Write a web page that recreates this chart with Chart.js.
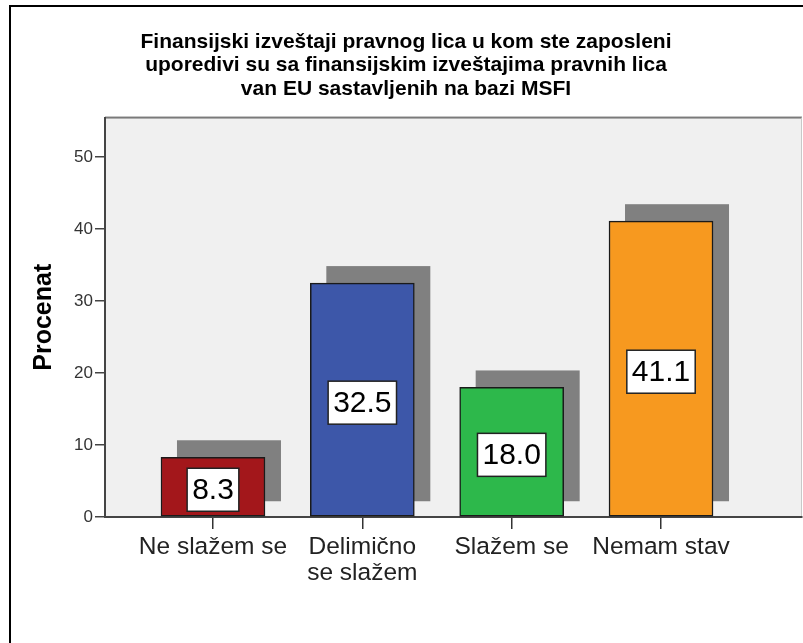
<!DOCTYPE html>
<html>
<head>
<meta charset="utf-8">
<script src="https://cdn.jsdelivr.net/npm/chart.js@4"></script>
<style>
  body { margin: 0; background: #fff; }
</style>
</head>
<body>
<canvas id="chart" width="803" height="643"></canvas>
<script>
const categories = ["Ne slažem se", ["Delimično", "se slažem"], "Slažem se", "Nemam stav"]
const values = [8.3, 32.5, 18.0, 41.1]
const barColors = ["#a3171b", "#3d57a9", "#2db84b", "#f7991f"]
const yTicks = [0, 10, 20, 30, 40, 50]
const titleLines = [
  "Finansijski izveštaji pravnog lica u kom ste zaposleni",
  "uporedivi su sa finansijskim izveštajima pravnih lica",
  "van EU sastavljenih na bazi MSFI"
]

const FONT = "'Liberation Sans', Arial, sans-serif"

// white page + black frame (left and top only, rest is cropped in the original)
const framePlugin = {
  id: "frame",
  beforeDraw(chart) {
    const c = chart.ctx
    c.save()
    c.fillStyle = "#fff"
    c.fillRect(0, 0, chart.width, chart.height)
    c.fillStyle = "#000"
    c.fillRect(9, 5, 2, chart.height - 5)
    c.fillRect(9, 5, chart.width - 9, 2)
    // plot background
    const a = chart.chartArea
    c.fillStyle = "#f0f0f0"
    c.fillRect(a.left, a.top, a.right - a.left, a.bottom - a.top)
    c.fillStyle = "#7a7a7a"
    c.fillRect(a.left, a.top - 1, a.right - a.left, 2)
    c.fillStyle = "#c8c8c8"
    c.fillRect(a.right - 1, a.top, 1, a.bottom - a.top)
    c.restore()
  }
}

// grey drop shadow behind each bar
const shadowPlugin = {
  id: "shadow",
  beforeDatasetsDraw(chart) {
    const c = chart.ctx
    c.save()
    c.fillStyle = "#808080"
    chart.getDatasetMeta(0).data.forEach(bar => {
      const w = bar.width
      const top = bar.y - 17
      const bottom = bar.base - 15
      c.fillRect(bar.x - w / 2 + 16, top, w, bottom - top)
    })
    c.restore()
  }
}

// white value boxes in the middle of the bars
const labelPlugin = {
  id: "valueBoxes",
  afterDatasetsDraw(chart) {
    const c = chart.ctx
    c.save()
    c.font = "30px " + FONT
    c.textAlign = "center"
    c.textBaseline = "middle"
    chart.getDatasetMeta(0).data.forEach((bar, i) => {
      const txt = values[i].toFixed(1)
      const tw = c.measureText(txt).width
      const bw = tw + 10, bh = 43
      let cy = (bar.y + bar.base) / 2 + 3
      if (cy + bh / 2 > bar.base - 5) cy = bar.base - 5 - bh / 2
      c.fillStyle = "#fff"
      c.fillRect(bar.x - bw / 2, cy - bh / 2, bw, bh)
      c.strokeStyle = "#222"
      c.lineWidth = 1.5
      c.strokeRect(bar.x - bw / 2, cy - bh / 2, bw, bh)
      c.fillStyle = "#000"
      c.fillText(txt, bar.x, cy + 1)
    })
    c.restore()
  }
}

new Chart(document.getElementById("chart"), {
  type: "bar",
  data: {
    datasets: [{
      data: values.map((v, i) => ({ x: i, y: v })),
      backgroundColor: barColors,
      borderColor: "#1a1a1a",
      borderWidth: 1.5,
      borderSkipped: false,
      barThickness: 104
    }]
  },
  options: {
    responsive: false,
    animation: false,
    layout: { padding: { left: 10, right: 1, top: 0, bottom: 0 } },
    plugins: {
      legend: { display: false },
      tooltip: { enabled: false },
      title: {
        display: true,
        text: titleLines,
        color: "#000",
        font: { family: FONT, size: 21, weight: "bold", lineHeight: 1.12 },
        padding: { top: 30, bottom: 17 }
      }
    },
    scales: {
      x: {
        type: "linear",
        offset: false,
        min: -0.723,
        max: 3.944,
        afterBuildTicks: s => { s.ticks = categories.map((c, i) => ({ value: i })) },
        afterFit: s => { s.height = 126 },
        ticks: {
          callback: v => categories[v],
          color: "#222",
          font: { family: FONT, size: 24.5, lineHeight: 1.08 },
          padding: 5,
          maxRotation: 0,
          autoSkip: false
        },
        grid: { offset: false, drawOnChartArea: false, drawTicks: true, tickLength: 12, color: "#333", lineWidth: 1.5 },
        border: { color: "#444", width: 2 }
      },
      y: {
        min: 0,
        max: 55.5,
        afterBuildTicks: s => { s.ticks = yTicks.map(v => ({ value: v })) },
        afterFit: s => { s.width = 95 },
        ticks: {
          color: "#333",
          font: { family: FONT, size: 17 },
          padding: 2
        },
        grid: { drawOnChartArea: false, drawTicks: true, tickLength: 10, color: "#444", lineWidth: 1.5 },
        border: { color: "#444", width: 2 },
        title: {
          display: true,
          text: "Procenat",
          color: "#000",
          font: { family: FONT, size: 25, weight: "bold" },
          padding: { top: 19, bottom: 0 }
        }
      }
    }
  },
  plugins: [framePlugin, shadowPlugin, labelPlugin]
})
</script>
</body>
</html>
